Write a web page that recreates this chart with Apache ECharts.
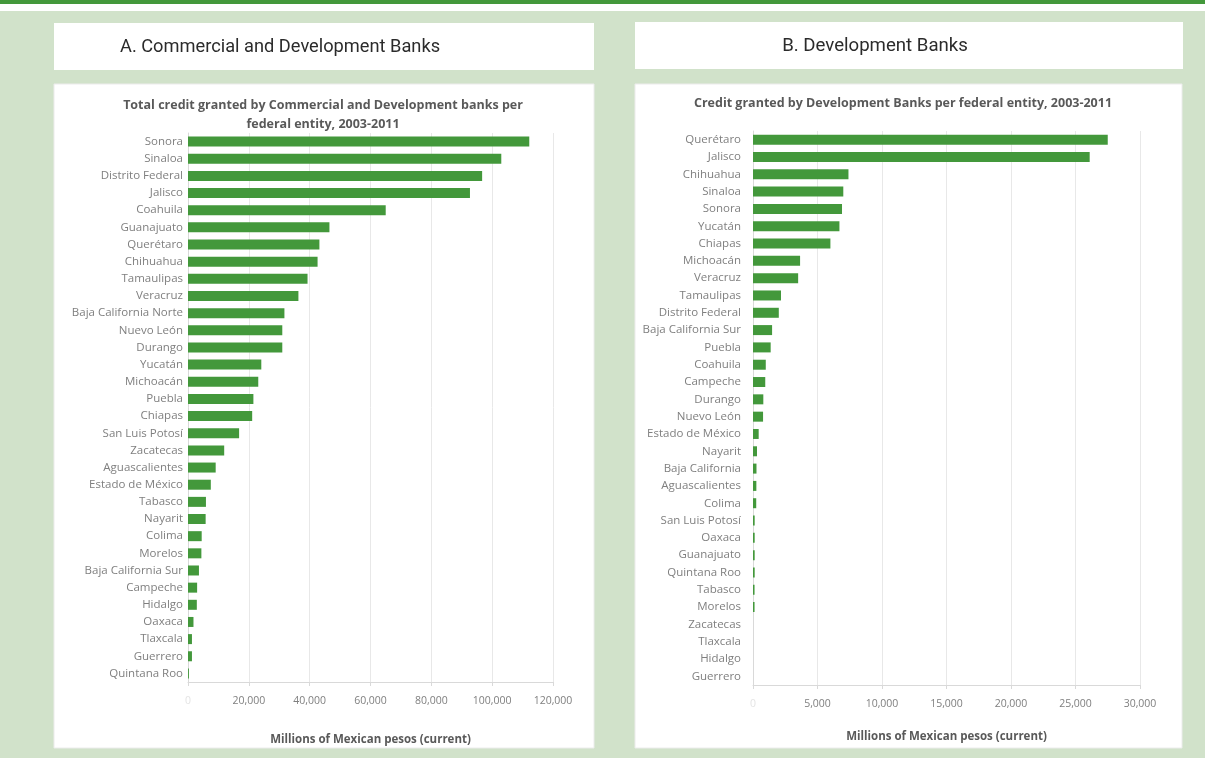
<!DOCTYPE html>
<html>
<head>
<meta charset="utf-8">
<script src="https://cdn.jsdelivr.net/npm/echarts@6/dist/echarts.min.js"></script>
<style>
    html, body { margin: 0; padding: 0; background: #fff; }
    #main { width: 1205px; height: 758px; }
</style>
</head>
<body>
<div id="main"></div>
<script>
// A. commercial + development banks, 2003-2011 (millions of pesos)
var catA = ['Sonora', 'Sinaloa', 'Distrito Federal', 'Jalisco', 'Coahuila', 'Guanajuato', 'Querétaro', 'Chihuahua',
    'Tamaulipas', 'Veracruz', 'Baja California Norte', 'Nuevo León', 'Durango', 'Yucatán', 'Michoacán', 'Puebla',
    'Chiapas', 'San Luis Potosí', 'Zacatecas', 'Aguascalientes', 'Estado de México', 'Tabasco', 'Nayarit', 'Colima',
    'Morelos', 'Baja California Sur', 'Campeche', 'Hidalgo', 'Oaxaca', 'Tlaxcala', 'Guerrero', 'Quintana Roo'];
var valA = [112200, 103000, 96700, 92700, 65000, 46500, 43200, 42600,
    39300, 36300, 31700, 31000, 31000, 24100, 23100, 21500,
    21100, 16800, 11900, 9100, 7500, 5900, 5800, 4500,
    4400, 3600, 3000, 2900, 1800, 1300, 1300, 300];

// B. development banks only
var catB = ['Querétaro', 'Jalisco', 'Chihuahua', 'Sinaloa', 'Sonora', 'Yucatán', 'Chiapas', 'Michoacán',
    'Veracruz', 'Tamaulipas', 'Distrito Federal', 'Baja California Sur', 'Puebla', 'Coahuila', 'Campeche', 'Durango',
    'Nuevo León', 'Estado de México', 'Nayarit', 'Baja California', 'Aguascalientes', 'Colima', 'San Luis Potosí', 'Oaxaca',
    'Guanajuato', 'Quintana Roo', 'Tabasco', 'Morelos', 'Zacatecas', 'Tlaxcala', 'Hidalgo', 'Guerrero'];
var valB = [27500, 26100, 7400, 7000, 6900, 6700, 6000, 3650,
    3500, 2170, 2000, 1480, 1370, 990, 950, 800,
    780, 440, 310, 270, 260, 250, 130, 130,
    130, 130, 120, 120, 0, 0, 0, 0];

var ticksA = { min: 0, max: 120000, interval: 20000 };
var ticksB = { min: 0, max: 30000, interval: 5000 };

var green = '#43983b',
    bgGreen = '#d1e2ca',
    txt = '#7f7f7f',
    titleTxt = '#595959',
    font = '"Open Sans", Lato, sans-serif',
    headFont = 'Roboto, "Liberation Sans", sans-serif';

var chart = echarts.init(document.getElementById('main'));

function valueAxis(idx, t, gap) {
    return {
        type: 'value',
        gridIndex: idx,
        min: t.min,
        max: t.max,
        interval: t.interval,
        name: 'Millions of Mexican pesos (current)',
        nameLocation: 'middle',
        nameGap: gap,
        nameTextStyle: { color: titleTxt, fontFamily: font, fontSize: 11.5, fontWeight: 'bold' },
        axisLine: { show: true, lineStyle: { color: '#d9d9d9' } },
        axisTick: { show: true, length: 4, lineStyle: { color: '#d9d9d9' } },
        axisLabel: {
            margin: 14,
            fontFamily: font,
            fontSize: 10.5,
            color: txt,
            formatter: function (v) {
                return v === 0 ? '{z|0}' : v.toLocaleString('en-US');
            },
            rich: { z: { color: '#e4e4e4', fontFamily: font, fontSize: 10.5 } }
        },
        splitLine: { show: true, lineStyle: { color: '#e8e8e8' } }
    };
}

function catAxis(idx, data, margin) {
    return {
        type: 'category',
        gridIndex: idx,
        data: data,
        inverse: true,
        axisLine: { show: true, lineStyle: { color: '#d9d9d9' } },
        axisTick: { show: false },
        axisLabel: { margin: margin, fontFamily: font, fontSize: 11.5, color: txt, interval: 0 }
    };
}

chart.setOption({
    backgroundColor: '#fff',
    animation: false,
    graphic: [
        { type: 'rect', z: -10, silent: true, shape: { x: 0, y: 0, width: 1205, height: 4 }, style: { fill: green } },
        { type: 'rect', z: -10, silent: true, shape: { x: 0, y: 11, width: 1205, height: 747 }, style: { fill: bgGreen } },
        // header boxes
        { type: 'rect', z: -9, silent: true, shape: { x: 54, y: 23, width: 540, height: 47 }, style: { fill: '#fff' } },
        { type: 'rect', z: -9, silent: true, shape: { x: 635, y: 22, width: 548, height: 47 }, style: { fill: '#fff' } },
        { type: 'text', z: 5, x: 120, y: 47, scaleX: 0.96, style: { x: 0, y: 0, text: 'A. Commercial and Development Banks', fill: '#2b2b2b', font: '19px ' + headFont, textAlign: 'left', textVerticalAlign: 'middle' } },
        { type: 'text', z: 5, x: 875, y: 46, scaleX: 0.98, style: { x: 0, y: 0, text: 'B. Development Banks', fill: '#2b2b2b', font: '19px ' + headFont, textAlign: 'center', textVerticalAlign: 'middle' } },
        // chart panels
        { type: 'rect', z: -9, silent: true, shape: { x: 54, y: 84, width: 540, height: 664 }, style: { fill: '#fff', stroke: '#ececec', lineWidth: 1 } },
        { type: 'rect', z: -9, silent: true, shape: { x: 635, y: 84, width: 547, height: 664 }, style: { fill: '#fff', stroke: '#ececec', lineWidth: 1 } },
        // chart titles
        { type: 'text', z: 5, style: { x: 323, y: 105, text: 'Total credit granted by Commercial and Development banks per', fill: titleTxt, font: 'bold 12.5px ' + font, textAlign: 'center', textVerticalAlign: 'middle' } },
        { type: 'text', z: 5, style: { x: 323, y: 124, text: 'federal entity, 2003-2011', fill: titleTxt, font: 'bold 12.5px ' + font, textAlign: 'center', textVerticalAlign: 'middle' } },
        { type: 'text', z: 5, style: { x: 903, y: 103, text: 'Credit granted by Development Banks per federal entity, 2003-2011', fill: titleTxt, font: 'bold 12.5px ' + font, textAlign: 'center', textVerticalAlign: 'middle' } }
    ],
    grid: [
        { left: 188, right: 652, top: 133, height: 549 },
        { left: 753, right: 65, top: 131, height: 554 }
    ],
    xAxis: [valueAxis(0, ticksA, 52), valueAxis(1, ticksB, 46)],
    yAxis: [catAxis(0, catA, 5), catAxis(1, catB, 12)],
    series: [{
        type: 'bar',
        xAxisIndex: 0,
        yAxisIndex: 0,
        barWidth: 10,
        itemStyle: { color: green },
        data: valA
    }, {
        type: 'bar',
        xAxisIndex: 1,
        yAxisIndex: 1,
        barWidth: 10,
        itemStyle: { color: green },
        data: valB
    }]
});
</script>
</body>
</html>
